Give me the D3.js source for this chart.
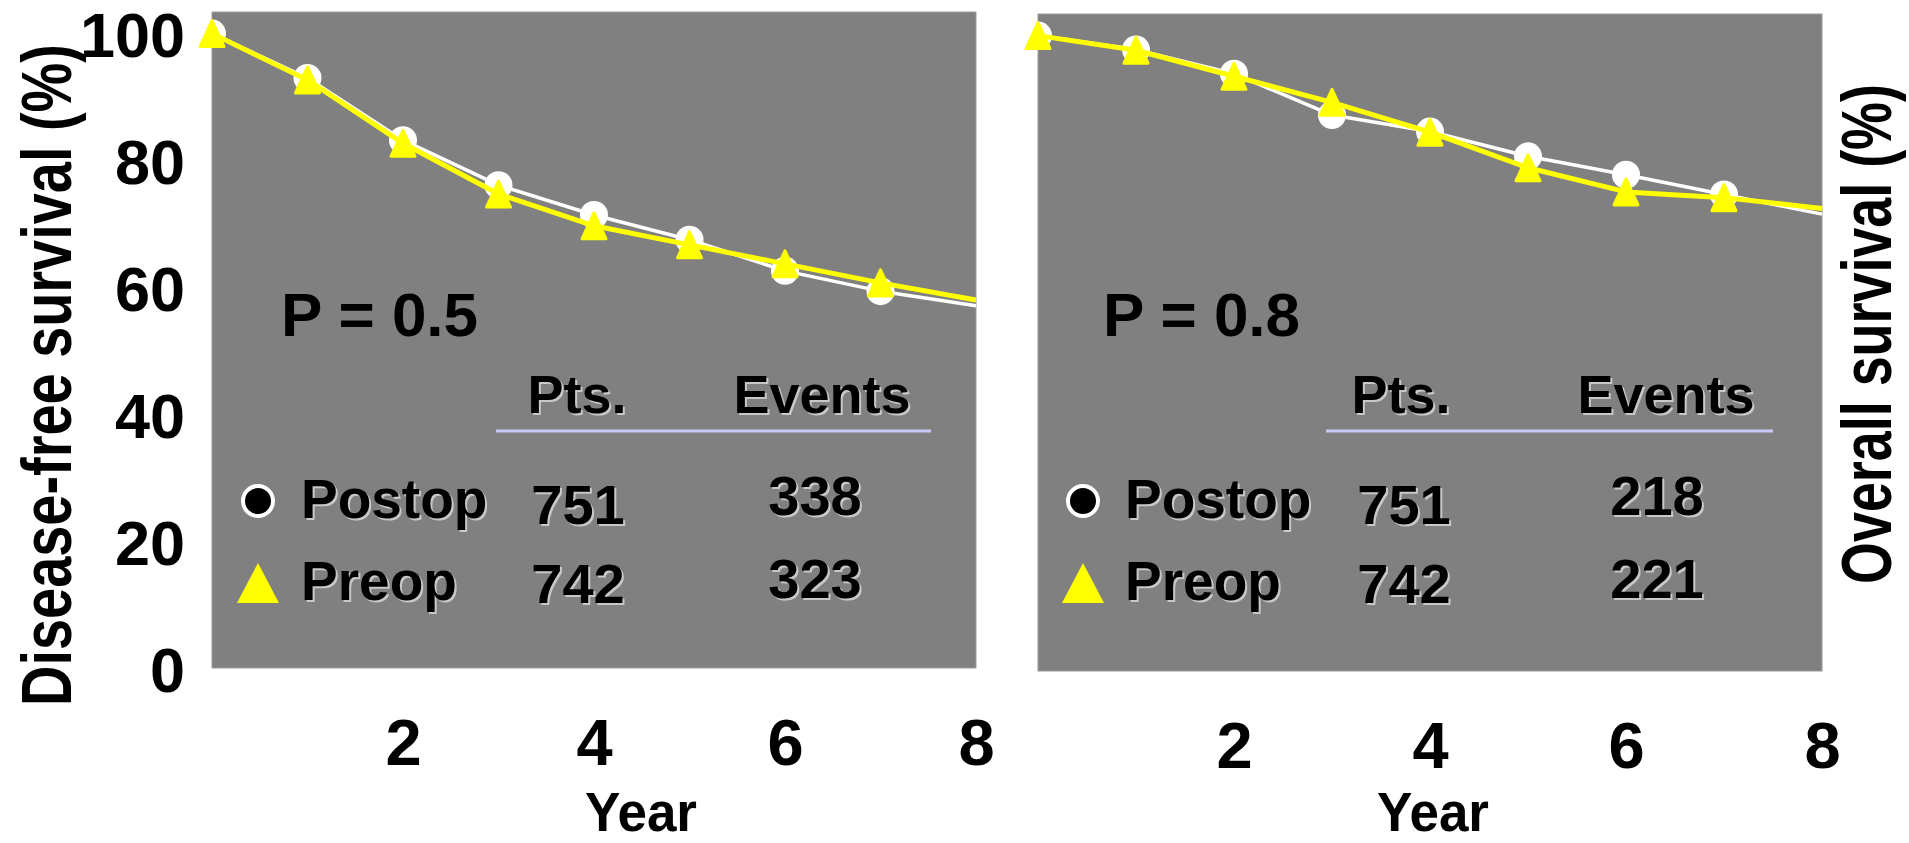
<!DOCTYPE html>
<html>
<head>
<meta charset="utf-8">
<script src="https://cdn.jsdelivr.net/npm/d3@7"></script>
<style>
  html, body { margin: 0; padding: 0; background: #ffffff; }
  svg { display: block; }
  text { font-family: "Liberation Sans", Arial, Helvetica, sans-serif; font-weight: bold; }
</style>
</head>
<body>
<svg id="chart" width="1909" height="843"></svg>
<script>
// Follow-up years
const years = [0, 1, 2, 3, 4, 5, 6, 7, 8];
// Last point closes the curve at the axis end; it carries no marker
const markedYears = [0, 1, 2, 3, 4, 5, 6, 7];

// Disease-free survival (%)
const dfsPostop = [100, 93.0, 83.2, 76.1, 71.4, 67.5, 62.6, 59.4, 57.1];
const dfsPreop  = [100, 92.7, 82.7, 74.7, 69.7, 66.7, 63.7, 60.7, 58.0];
// Overall survival (%)
const osPostop  = [100, 97.8, 94.0, 87.5, 84.9, 81.0, 78.1, 75.0, 71.9];
const osPreop   = [100, 97.7, 93.6, 89.5, 84.8, 79.2, 75.4, 74.5, 72.8];

const xTicks = [2, 4, 6, 8];
const yTicks = [0, 20, 40, 60, 80, 100];

const groups = ["Postop", "Preop"];
const dfsPts = [751, 742], dfsEvents = [338, 323];
const osPts  = [751, 742], osEvents  = [218, 221];

const panels = [
  {
    key: "dfs", title: "Disease-free survival (%)", pLabel: "P = 0.5",
    postop: dfsPostop, preop: dfsPreop, pts: dfsPts, events: dfsEvents,
    rect: { x0: 212, x1: 976, y0: 12, y1: 668 },
    showYAxis: true,
    titlePos: { x: 71, y: 375, len: 662 },
    yearPos: { x: 641, len: 112 },
    pPos: 69, legendX: 46, nameX: 89, ptsX: 366, evX: 603, evHeadX: 610, ptsHeadX: 365,
    rule: [284, 719]
  },
  {
    key: "os", title: "Overall survival (%)", pLabel: "P = 0.8",
    postop: osPostop, preop: osPreop, pts: osPts, events: osEvents,
    rect: { x0: 1038, x1: 1822, y0: 14, y1: 671 },
    showYAxis: false,
    titlePos: { x: 1891, y: 334, len: 500 },
    yearPos: { x: 1433, len: 112 },
    pPos: 65, legendX: 45, nameX: 87, ptsX: 366, evX: 619, evHeadX: 628, ptsHeadX: 363,
    rule: [288, 735]
  }
];

const svg = d3.select("#chart");
const YELLOW = "#ffff00";
const SHADOW = "#c8c8c8";

// Text with a soft light drop shadow, as used inside the plot area
function shadowText(g, x, y, str, size, anchor) {
  g.append("text").attr("x", x + 2).attr("y", y + 2).attr("font-size", size)
    .attr("text-anchor", anchor).attr("fill", SHADOW).text(str);
  g.append("text").attr("x", x).attr("y", y).attr("font-size", size)
    .attr("text-anchor", anchor).attr("fill", "#000").text(str);
}

// Narrow lettering: draw at full size, then squeeze horizontally to a set length
function narrowText(g, x, y, angle, str, size, len) {
  const holder = g.append("g").attr("transform", `translate(${x},${y}) rotate(${angle})`);
  const t = holder.append("text").attr("text-anchor", "middle")
    .attr("font-size", size).attr("fill", "#000").text(str);
  const natural = t.node().getComputedTextLength();
  t.attr("transform", `scale(${len / natural},1)`);
  return t;
}

const trianglePath = (w, h) => `M0,${-h / 2}L${w / 2},${h / 2}L${-w / 2},${h / 2}Z`;

panels.forEach(p => {
  const r = p.rect;
  const x = d3.scaleLinear().domain([0, 8]).range([r.x0, r.x1]);
  const y = d3.scaleLinear().domain([0, 103.4]).range([r.y1, r.y0]);
  const g = svg.append("g").attr("class", p.key);

  // Plot background
  g.append("rect").attr("x", r.x0).attr("y", r.y0)
    .attr("width", r.x1 - r.x0).attr("height", r.y1 - r.y0)
    .attr("fill", "#808080").attr("stroke", "#9a9a9a").attr("stroke-width", 1);

  // X axis labels
  const xAxis = d3.axisBottom(x).tickValues(xTicks).tickSize(0).tickPadding(0);
  const xg = g.append("g").attr("transform", `translate(0,${r.y1 + 97})`).call(xAxis);
  xg.select(".domain").remove();
  xg.selectAll("text").attr("font-size", 65).attr("fill", "#000")
    .attr("font-family", null).attr("dy", 0).attr("y", 0);

  // Y axis labels
  if (p.showYAxis) {
    const yAxis = d3.axisLeft(y).tickValues(yTicks).tickSize(0).tickPadding(0);
    const yg = g.append("g").attr("transform", `translate(${r.x0 - 27},0)`).call(yAxis);
    yg.select(".domain").remove();
    yg.selectAll("text").attr("font-size", 63).attr("fill", "#000")
      .attr("font-family", null).attr("x", 0).attr("dy", "0.37em");
  }

  // Axis titles
  narrowText(g, p.titlePos.x, p.titlePos.y, -90, p.title, 70, p.titlePos.len);
  narrowText(g, p.yearPos.x, 831, 0, "Year", 56, p.yearPos.len);

  // Survival curves
  const line = d3.line().x((d, i) => x(years[i])).y(d => y(d));
  g.append("path").datum(p.postop).attr("d", line)
    .attr("fill", "none").attr("stroke", "#ffffff").attr("stroke-width", 3.5)
    .attr("stroke-linejoin", "round");
  g.selectAll("circle.m").data(markedYears).join("circle").attr("class", "m")
    .attr("cx", d => x(d)).attr("cy", d => y(p.postop[d])).attr("r", 14)
    .attr("fill", "#ffffff");

  g.append("path").datum(p.preop).attr("d", line)
    .attr("fill", "none").attr("stroke", YELLOW).attr("stroke-width", 5)
    .attr("stroke-linejoin", "round");
  g.selectAll("path.t").data(markedYears).join("path").attr("class", "t")
    .attr("transform", d => `translate(${x(d)},${y(p.preop[d])})`)
    .attr("d", trianglePath(24, 26))
    .attr("fill", YELLOW).attr("stroke", YELLOW).attr("stroke-width", 3)
    .attr("stroke-linejoin", "round");

  // P value
  g.append("text").attr("x", r.x0 + p.pPos).attr("y", 336)
    .attr("font-size", 62).attr("fill", "#000").text(p.pLabel);

  // Patients / events table
  shadowText(g, r.x0 + p.ptsHeadX, 413, "Pts.", 54, "middle");
  shadowText(g, r.x0 + p.evHeadX, 413, "Events", 54, "middle");
  g.append("line").attr("x1", r.x0 + p.rule[0]).attr("x2", r.x0 + p.rule[1])
    .attr("y1", 431).attr("y2", 431)
    .attr("stroke", "#c8c8f4").attr("stroke-width", 3);

  const rowY = [518, 600];
  const numY = [[524, 515], [603, 598]];
  groups.forEach((name, i) => {
    const cx = r.x0 + p.legendX;
    if (i === 0) {
      g.append("circle").attr("cx", cx).attr("cy", 501).attr("r", 15)
        .attr("fill", "#000").attr("stroke", "#fff").attr("stroke-width", 4);
    } else {
      g.append("path").attr("transform", `translate(${cx},583)`)
        .attr("d", trianglePath(42, 40)).attr("fill", YELLOW);
    }
    shadowText(g, r.x0 + p.nameX, rowY[i], name, 55, "start");
    shadowText(g, r.x0 + p.ptsX, numY[i][0], String(p.pts[i]), 56, "middle");
    shadowText(g, r.x0 + p.evX, numY[i][1], String(p.events[i]), 56, "middle");
  });
});
</script>
</body>
</html>
